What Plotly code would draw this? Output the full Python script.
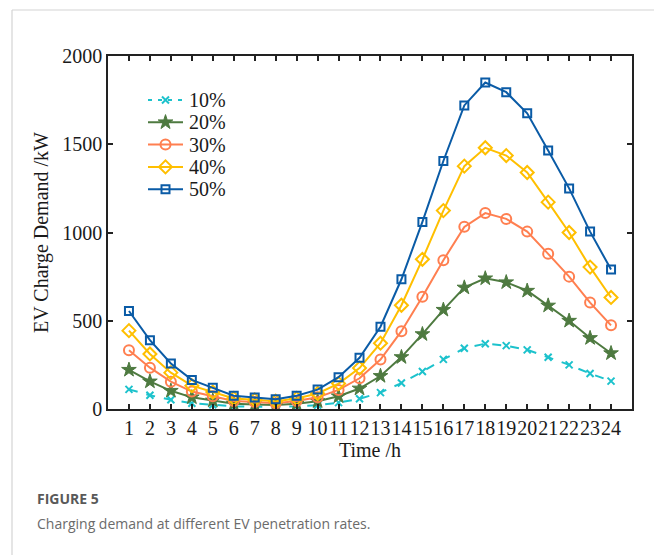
import plotly.graph_objects as go

hours = list(range(1, 25))
tick_labels = [str(h) for h in hours]
names = ["10%", "20%", "30%", "40%", "50%"]

pen10 = [111, 78, 52, 33, 24, 15, 13, 11, 15, 22, 36, 58, 93, 147, 212, 281, 344, 370, 359, 335, 293, 250, 201, 158]
pen20 = [222, 156, 103, 66, 48, 30, 26, 22, 30, 44, 72, 116, 187, 294, 424, 562, 688, 740, 718, 670, 586, 500, 402, 316]
pen30 = [333, 234, 155, 99, 72, 45, 39, 33, 45, 66, 108, 174, 280, 441, 636, 843, 1032, 1110, 1077, 1005, 879, 750, 603, 474]
pen40 = [444, 312, 206, 132, 96, 60, 52, 44, 60, 88, 144, 232, 373, 588, 848, 1124, 1376, 1480, 1436, 1340, 1172, 1000, 804, 632]
pen50 = [555, 390, 258, 165, 120, 75, 65, 55, 75, 110, 180, 290, 466, 735, 1060, 1405, 1720, 1850, 1795, 1675, 1465, 1250, 1005, 790]

series = [pen10, pen20, pen30, pen40, pen50]
colors = ["#1CC2CC", "#4E7A40", "#FF7F50", "#FFBF00", "#0A5BA6"]
symbols = ["x-thin-open", "star", "circle-open", "diamond-open", "square-open"]
sizes = [7, 11, 10, 10, 8]
dashes = ["dash", "solid", "solid", "solid", "solid"]

SERIF = "Liberation Serif, Times New Roman, serif"
TXT = "#1a1a1a"

W, H = 654, 555
L, R, T, B = 108, 22, 56, 146
pw, ph = W - L - R, H - T - B

def px2x(px):
    return (px - L) / pw

def py2y(py):
    return (H - B - py) / ph

fig = go.Figure()
for nm, ys, c, s, sz, d in zip(names, series, colors, symbols, sizes, dashes):
    fig.add_trace(go.Scatter(
        x=hours, y=ys, name=nm, mode="lines+markers", showlegend=False,
        line=dict(color=c, width=2, dash=d),
        marker=dict(symbol=s, size=sz, color=c, line=dict(color=c, width=2 if s != "star" else 1)),
    ))

# Custom legend (layout, in pixel space of an overlay axis)
LEG_X0, LEG_X1, LEG_TXT = 148, 183, 187
LEG_Y0, LEG_DY = 100, 22.3
annotations = []
for i, (nm, c, s, sz, d) in enumerate(zip(names, colors, symbols, sizes, dashes)):
    yy = LEG_Y0 + i * LEG_DY
    fig.add_trace(go.Scatter(
        x=[LEG_X0, (LEG_X0 + LEG_X1) / 2, LEG_X1], y=[yy, yy, yy],
        xaxis="x2", yaxis="y2", mode="lines", showlegend=False, hoverinfo="skip",
        line=dict(color=c, width=2, dash="4px,6px" if d == "dash" else "solid"),
    ))
    fig.add_trace(go.Scatter(
        x=[(LEG_X0 + LEG_X1) / 2], y=[yy],
        xaxis="x2", yaxis="y2", mode="markers", showlegend=False, hoverinfo="skip",
        marker=dict(symbol=s, size=sz, color=c, line=dict(color=c, width=2 if s != "star" else 1)),
    ))
    annotations.append(dict(
        text=nm, xref="x2", yref="y2", x=LEG_TXT, y=yy, xanchor="left", yanchor="middle",
        showarrow=False, font=dict(family=SERIF, size=20, color=TXT),
    ))

annotations += [
    dict(text="<b>FIGURE 5</b>", xref="paper", yref="paper", x=px2x(35), y=py2y(498),
         xanchor="left", yanchor="middle", showarrow=False,
         font=dict(family="Open Sans, sans-serif", size=14, color="#595959")),
    dict(text="Charging demand at different EV penetration rates.", xref="paper", yref="paper",
         x=px2x(35), y=py2y(523), xanchor="left", yanchor="middle", showarrow=False,
         font=dict(family="Open Sans, sans-serif", size=14, color="#6b6b6b")),
]

fig.update_layout(
    width=W, height=H,
    margin=dict(l=L, r=R, t=T, b=B, pad=0),
    paper_bgcolor="white", plot_bgcolor="white",
    font=dict(family=SERIF, size=20, color=TXT),
    showlegend=False,
    xaxis=dict(
        range=[0, 25], tickmode="array", tickvals=hours, ticktext=tick_labels, tickangle=0,
        ticks="inside", ticklen=5, tickwidth=1.5, tickcolor="#222",
        showline=True, linecolor="#222", linewidth=1.5, mirror="allticks",
        showgrid=False, zeroline=False,
        tickfont=dict(family=SERIF, size=20, color=TXT),
        title=dict(text="Time /h", font=dict(family=SERIF, size=20, color=TXT), standoff=1),
    ),
    yaxis=dict(
        range=[0, 2000], tickvals=[0, 500, 1000, 1500, 2000],
        ticks="inside", ticklen=5, tickwidth=1.5, tickcolor="#222",
        showline=True, linecolor="#222", linewidth=1.5, mirror="allticks",
        showgrid=False, zeroline=False,
        tickfont=dict(family=SERIF, size=20, color=TXT),
        title=dict(text="EV Charge Demand /kW", font=dict(family=SERIF, size=20, color=TXT), standoff=8),
    ),
    xaxis2=dict(overlaying="x", range=[L, W - R], visible=False, fixedrange=True),
    yaxis2=dict(overlaying="y", range=[H - B, T], visible=False, fixedrange=True),
    shapes=[
        dict(type="line", xref="paper", yref="paper", x0=px2x(12), x1=px2x(660), y0=py2y(10), y1=py2y(10),
             line=dict(color="#d4d4d4", width=1.2)),
        dict(type="line", xref="paper", yref="paper", x0=px2x(12), x1=px2x(12), y0=py2y(10), y1=py2y(560),
             line=dict(color="#d4d4d4", width=1.2)),
    ],
    annotations=annotations,
)

fig.write_html("out.html")
